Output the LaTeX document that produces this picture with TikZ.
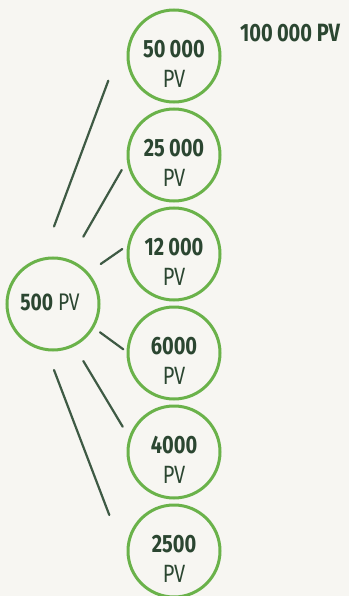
\documentclass[tikz,border=0pt]{standalone}
\usepackage{fontspec}
\setmainfont[FakeStretch=0.8]{Fira Sans}
\usetikzlibrary{calc}
\definecolor{bg}{HTML}{F7F6F2}
\definecolor{ringgreen}{HTML}{6AB24A}
\definecolor{linegray}{HTML}{3E5A44}
\definecolor{txtgreen}{HTML}{2B4631}
\begin{document}
\begin{tikzpicture}[x=1pt,y=-1pt,
  ring/.style={circle,draw=ringgreen,line width=3pt,minimum size=92pt,inner sep=0pt},
  pv/.style={text=txtgreen,align=center,inner sep=0pt,font=\fontsize{25}{30}\selectfont},
  conn/.style={draw=linegray,line width=2.2pt,line cap=round}]
\path[fill=bg,use as bounding box] (0,0) rectangle (349,596);
% main circle
\node[ring] (main) at (53,304) {};
\node[pv,font=\fontsize{24}{28}\selectfont] (tmain) at ($(main)+(-3,-1.5)$) {\textbf{500} PV};
% right column
\foreach \n/\y/\t in {1/56/50\,000,2/155/25\,000,3/254/12\,000,4/353/6000,5/452/4000,6/551/2500}{
  \node[ring] (c\n) at (174,\y) {};
  \node[pv] (t\n) at ($(c\n)+(0,7.5)$) {\textbf{\t}\\PV};
}
\node[pv,anchor=base west] (top) at ($(c1)+(66,-14)$) {\textbf{100\,000 PV}};
% connectors
\coordinate (a1) at (54,226.5);  \coordinate (b1) at (108.3,80.7);
\coordinate (a2) at (83.3,236.7); \coordinate (b2) at (121.7,170);
\coordinate (a3) at (100.7,264); \coordinate (b3) at (122.3,249);
\coordinate (a4) at (100,332.3); \coordinate (b4) at (123.3,349.3);
\coordinate (a5) at (83.3,361);  \coordinate (b5) at (122.7,426.7);
\coordinate (a6) at (54,370);    \coordinate (b6) at (109.3,515);
\foreach \i in {1,...,6}{\draw[conn] (a\i) -- (b\i);}
\end{tikzpicture}
\end{document}
